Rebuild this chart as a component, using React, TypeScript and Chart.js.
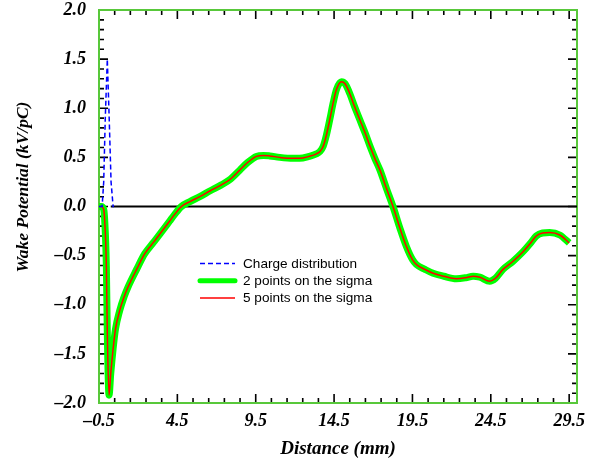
import React, { useEffect, useRef } from 'react';
import { Chart, registerables } from 'chart.js';

Chart.register(...registerables);

// ---- data ----
const wakeX = [
  -0.5, -0.35, -0.2, -0.14, -0.03, 0.03, 0.14, 0.25, 0.4, 0.55, 0.82, 1.1, 1.35, 1.9, 2.42, 3.0, 3.48,
  4.0, 4.33, 4.76, 5.3, 5.93, 6.6, 7.31, 7.9, 8.48, 9.0, 9.54, 10.0, 10.39, 11.03, 11.88, 12.3,
  12.9, 13.37, 13.6, 13.8, 14.0, 14.22, 14.45, 14.65, 14.97, 15.2, 15.5, 15.8, 16.15, 16.5, 16.8,
  17.1, 17.43, 17.85, 18.26, 18.7, 19.12, 19.5, 19.75, 20.3, 20.82, 21.5, 22.3, 22.9, 23.37, 23.8,
  24.43, 24.8, 25.28, 25.9, 26.56, 27.0, 27.4, 27.8, 28.26, 28.9, 29.5,
];
const wake2Y = [
  0.0, 0.0, -0.03, -0.13, -0.61, -1.29, -1.92, -1.7, -1.45, -1.25, -1.06, -0.92, -0.82, -0.64, -0.48, -0.36, -0.26,
  -0.15, -0.08, 0.0, 0.05, 0.1, 0.16, 0.22, 0.28, 0.37, 0.45, 0.51, 0.52, 0.515, 0.5, 0.49, 0.49,
  0.51, 0.536, 0.56, 0.61, 0.72, 0.88, 1.06, 1.19, 1.27, 1.25, 1.15, 1.02, 0.88, 0.74, 0.61,
  0.49, 0.37, 0.18, 0.0, -0.22, -0.41, -0.54, -0.59, -0.64, -0.68, -0.71, -0.735, -0.725, -0.71, -0.72,
  -0.76, -0.73, -0.64, -0.56, -0.46, -0.38, -0.3, -0.27, -0.265, -0.29, -0.37,
];
const wake5Y = [
  0.0, 0.0, -0.03, -0.13, -0.61, -1.29, -1.92, -1.7, -1.45, -1.25, -1.06, -0.92, -0.82, -0.64, -0.48, -0.36, -0.26,
  -0.15, -0.08, 0.0, 0.05, 0.1, 0.16, 0.22, 0.28, 0.37, 0.45, 0.51, 0.52, 0.515, 0.5, 0.49, 0.49,
  0.51, 0.536, 0.56, 0.61, 0.72, 0.88, 1.06, 1.19, 1.27, 1.25, 1.15, 1.02, 0.88, 0.74, 0.61,
  0.49, 0.37, 0.18, 0.0, -0.22, -0.41, -0.54, -0.59, -0.64, -0.68, -0.71, -0.735, -0.725, -0.71, -0.72,
  -0.76, -0.73, -0.64, -0.56, -0.46, -0.38, -0.3, -0.27, -0.265, -0.29, -0.37,
];
const chargeX = [-0.5, -0.3, -0.2, -0.1, 0.03, 0.15, 0.27, 0.4, 0.45];
const chargeY = [0.0, 0.0, 0.25, 0.9, 1.5, 0.9, 0.25, 0.0, 0.0];
const zeroX = [0.25, 30.0];
const zeroY = [0.0, 0.0];

const xTickValues = [-0.5, 4.5, 9.5, 14.5, 19.5, 24.5, 29.5];
const yTickValues = [-2.0, -1.5, -1.0, -0.5, 0.0, 0.5, 1.0, 1.5, 2.0];

const seriesLabels = ['Charge distribution', '2 points on the sigma', '5 points on the sigma'];
const xTitle = 'Distance (mm)';
const yTitle = 'Wake Potential (kV/pC)';

const X_MIN = -0.5;
const X_MAX = 30.0;
const Y_MIN = -2.0;
const Y_MAX = 2.0;

const SERIF = '"Liberation Serif", "Times New Roman", serif';
const SANS = '"Liberation Sans", Arial, sans-serif';
const FRAME_GREEN = '#58c83a';

const fmt = (v: number) => (v < 0 ? '\u2013' + Math.abs(v).toFixed(1) : v.toFixed(1));

const toPts = (xs: number[], ys: number[]) => xs.map((x, i) => ({ x, y: ys[i] }));

const framePlugin = {
  id: 'frameTicks',
  beforeDatasetsDraw(chart: any) {
    const { ctx, chartArea: a, scales } = chart;
    const x = scales.x;
    const y = scales.y;
    ctx.save();
    ctx.strokeStyle = '#000';
    ctx.lineWidth = 1.6;
    ctx.beginPath();
    for (let i = 0; i <= 30; i++) {
      const v = X_MIN + i;
      const px = x.getPixelForValue(v);
      const len = i % 5 === 0 ? 9 : 5;
      ctx.moveTo(px, a.bottom);
      ctx.lineTo(px, a.bottom - len);
      ctx.moveTo(px, a.top);
      ctx.lineTo(px, a.top + len);
    }
    for (let i = -20; i <= 20; i++) {
      const v = i / 10;
      const py = y.getPixelForValue(v);
      const len = i % 5 === 0 ? 9 : 5;
      ctx.moveTo(a.left, py);
      ctx.lineTo(a.left + len, py);
      ctx.moveTo(a.right, py);
      ctx.lineTo(a.right - len, py);
    }
    ctx.stroke();
    ctx.strokeStyle = FRAME_GREEN;
    ctx.lineWidth = 2;
    ctx.strokeRect(a.left, a.top, a.right - a.left, a.bottom - a.top);
    ctx.restore();
  },
  afterDraw(chart: any) {
    const { ctx } = chart;
    ctx.save();
    // y-axis title
    ctx.translate(23, 187);
    ctx.rotate(-Math.PI / 2);
    ctx.font = `italic bold 17.5px ${SERIF}`;
    ctx.fillStyle = '#000';
    ctx.textAlign = 'center';
    ctx.textBaseline = 'middle';
    ctx.fillText(yTitle, 0, 0);
    ctx.restore();

    // legend
    ctx.save();
    const ds = chart.data.datasets.filter((d: any) => seriesLabels.includes(d.label));
    const x0 = 200;
    const x1 = 235;
    const y0 = 263.5;
    const step = 17.2;
    ds.forEach((d: any, i: number) => {
      const yy = y0 + i * step;
      ctx.beginPath();
      ctx.strokeStyle = d.borderColor;
      ctx.lineWidth = d.legendWidth || d.borderWidth;
      ctx.setLineDash(d.borderDash || []);
      ctx.lineCap = d.legendWidth ? 'round' : 'butt';
      ctx.moveTo(x0, yy);
      ctx.lineTo(x1, yy);
      ctx.stroke();
      ctx.setLineDash([]);
      ctx.fillStyle = '#000';
      ctx.font = `13.6px ${SANS}`;
      ctx.textBaseline = 'middle';
      ctx.textAlign = 'left';
      ctx.fillText(d.label, 243, yy + 0.5);
    });
    ctx.restore();
  },
};

export default function App() {
  const ref = useRef<HTMLCanvasElement | null>(null);

  useEffect(() => {
    if (!ref.current) return;
    const chart = new Chart(ref.current, {
      type: 'line',
      data: {
        datasets: [
          {
            label: seriesLabels[0],
            data: toPts(chargeX, chargeY),
            borderColor: '#0000ff',
            borderWidth: 1.5,
            borderDash: [5, 3],
            pointRadius: 0,
            tension: 0,
            order: 0,
            clip: false,
          } as any,
          {
            label: seriesLabels[1],
            data: toPts(wakeX, wake2Y),
            borderColor: '#00ff00',
            borderWidth: 7,
            legendWidth: 5,
            pointRadius: 0,
            cubicInterpolationMode: 'monotone',
            order: 2,
            clip: false,
          } as any,
          {
            label: seriesLabels[2],
            data: toPts(wakeX, wake5Y),
            borderColor: '#ff0000',
            borderWidth: 1.5,
            pointRadius: 0,
            cubicInterpolationMode: 'monotone',
            order: 1,
            clip: false,
          } as any,
          {
            label: 'zero',
            data: toPts(zeroX, zeroY),
            borderColor: '#000000',
            borderWidth: 2,
            pointRadius: 0,
            order: 3,
          } as any,
        ],
      },
      options: {
        animation: false,
        responsive: false,
        events: [],
        layout: { padding: { left: 0, right: 19, top: 10, bottom: 0 } },
        plugins: {
          legend: { display: false },
          tooltip: { enabled: false },
        },
        scales: {
          x: {
            type: 'linear',
            min: X_MIN,
            max: X_MAX,
            grid: { display: false, drawTicks: false },
            border: { display: false },
            afterBuildTicks: (s: any) => {
              s.ticks = xTickValues.map((v) => ({ value: v }));
            },
            afterFit: (s: any) => {
              s.height = 63;
              s.paddingLeft = 0;
              s.paddingRight = 0;
            },
            ticks: {
              autoSkip: false,
              maxRotation: 0,
              minRotation: 0,
              padding: 8,
              color: '#000',
              font: { family: SERIF, size: 18, style: 'italic', weight: 'bold' },
              callback: (v: any) => fmt(Number(v)),
            },
            title: {
              display: true,
              text: xTitle,
              color: '#000',
              padding: { top: 0, bottom: 6 },
              font: { family: SERIF, size: 19, style: 'italic', weight: 'bold' },
            },
          },
          y: {
            type: 'linear',
            min: Y_MIN,
            max: Y_MAX,
            grid: { display: false, drawTicks: false },
            border: { display: false },
            afterBuildTicks: (s: any) => {
              s.ticks = yTickValues.map((v) => ({ value: v }));
            },
            afterFit: (s: any) => {
              s.width = 99;
              s.paddingTop = 0;
              s.paddingBottom = 0;
            },
            ticks: {
              autoSkip: false,
              padding: 13,
              color: '#000',
              font: { family: SERIF, size: 18, style: 'italic', weight: 'bold' },
              callback: (v: any) => fmt(Number(v)),
            },
          },
        },
      } as any,
      plugins: [framePlugin],
    });
    return () => chart.destroy();
  }, []);

  return (
    <div style={{ position: 'fixed', left: 0, top: 0, width: 596, height: 466, background: '#fff' }}>
      <canvas ref={ref} width={596} height={466} style={{ display: 'block' }} />
    </div>
  );
}
